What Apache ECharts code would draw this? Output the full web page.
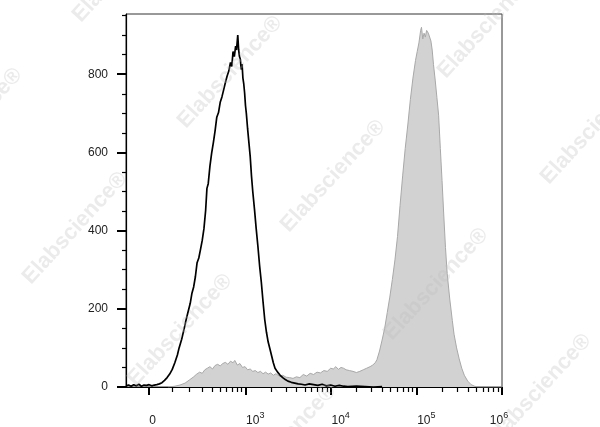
<!DOCTYPE html>
<html>
<head>
<meta charset="utf-8">
<script src="https://cdn.jsdelivr.net/npm/echarts@6/dist/echarts.min.js"></script>
<style>
html,body{margin:0;padding:0;background:#fff;}
#chart{width:600px;height:427px;}
</style>
</head>
<body>
<div id="chart"></div>
<script>
// ---- data (x in display-scale decade units of a biexponential axis) ----
const blackHist = [
[1.61,3],[1.64,5],[1.67,2],[1.70,6],[1.73,3],[1.76,7],[1.79,2],[1.82,5],[1.85,4],[1.88,6],
[1.91,3],[1.94,5],[1.97,6],[2.00,8],[2.03,11],[2.06,17],[2.09,24],[2.12,33],[2.15,45],[2.18,62],
[2.21,82],[2.23,100],[2.26,122],[2.29,150],[2.31,170],[2.33,188],[2.36,214],[2.38,240],[2.40,256],
[2.42,282],[2.44,318],[2.46,330],[2.48,352],[2.50,375],[2.52,405],[2.54,452],[2.555,508],[2.57,520],
[2.59,565],[2.61,598],[2.63,625],[2.65,655],[2.67,690],[2.69,702],[2.71,728],[2.73,742],[2.75,760],
[2.77,778],[2.79,795],[2.81,808],[2.83,830],[2.845,820],[2.86,858],[2.875,845],[2.89,872],[2.90,862],
[2.915,900],[2.925,862],[2.935,845],[2.945,838],[2.955,812],[2.965,826],[2.975,790],[2.985,775],
[2.995,752],[3.005,720],[3.015,700],[3.03,660],[3.045,625],[3.06,590],[3.075,540],[3.09,500],
[3.11,455],[3.13,405],[3.15,360],[3.17,310],[3.19,268],[3.21,218],[3.23,172],[3.25,140],[3.27,115],
[3.29,98],[3.31,80],[3.33,62],[3.35,48],[3.38,38],[3.41,30],[3.44,24],[3.47,19],[3.50,15],[3.54,12],
[3.58,10],[3.62,8],[3.66,7],[3.70,5],[3.75,8],[3.80,6],[3.85,4],[3.90,7],[3.95,3],[4.00,5],[4.05,2],
[4.10,4],[4.15,2],[4.20,1],[4.30,2],[4.40,1],[4.50,0],[4.60,1]
];
const greyHist = [
[2.10,0],[2.18,2],[2.24,5],[2.30,10],[2.35,18],[2.40,26],[2.43,32],[2.47,38],[2.50,35],[2.53,44],
[2.56,48],[2.59,52],[2.62,46],[2.65,55],[2.68,58],[2.71,54],[2.74,60],[2.77,63],[2.80,58],[2.83,66],
[2.86,62],[2.88,68],[2.91,56],[2.94,60],[2.97,50],[3.00,52],[3.03,44],[3.06,46],[3.09,40],[3.12,42],
[3.15,37],[3.18,40],[3.21,34],[3.24,38],[3.27,33],[3.30,36],[3.33,30],[3.36,34],[3.40,28],[3.44,30],
[3.48,25],[3.52,24],[3.56,22],[3.60,26],[3.64,24],[3.68,32],[3.72,28],[3.76,35],[3.80,32],[3.84,38],
[3.88,36],[3.92,42],[3.96,40],[4.00,48],[4.03,46],[4.06,52],[4.09,45],[4.12,50],[4.15,48],[4.18,44],
[4.22,42],[4.26,40],[4.30,37],[4.34,40],[4.38,44],[4.42,48],[4.46,52],[4.49,56],[4.52,62],[4.54,70],
[4.57,92],[4.60,120],[4.63,150],[4.66,190],[4.69,230],[4.72,275],[4.75,325],[4.78,385],[4.81,465],
[4.84,540],[4.87,610],[4.90,670],[4.93,735],[4.96,790],[4.99,835],[5.01,858],[5.03,880],[5.05,912],
[5.06,920],[5.075,890],[5.09,905],[5.105,895],[5.12,912],[5.14,905],[5.155,910],[5.17,885],[5.185,862],
[5.20,825],[5.22,785],[5.24,740],[5.26,695],[5.28,610],[5.30,528],[5.32,440],[5.34,357],[5.36,290],
[5.39,225],[5.42,170],[5.44,135],[5.47,100],[5.50,72],[5.53,48],[5.56,30],[5.60,15],[5.64,6],
[5.68,2],[5.72,0],[6.0,0]
];
const xMajorRaw = [0, 1e3, 1e4, 1e5, 1e6];
const xMajorLabels = ['0', '3', '4', '5', '6'];   // '0' or exponent of 10
const xMinorRaw = [-100, 100,200,300,400,500,600,700,800,900,
  2e3,3e3,4e3,5e3,6e3,7e3,8e3,9e3, 2e4,3e4,4e4,5e4,6e4,7e4,8e4,9e4,
  2e5,3e5,4e5,5e5,6e5,7e5,8e5,9e5];
const yMajor = [0, 200, 400, 600, 800];
const yMinor = [50,100,150,250,300,350,450,500,550,650,700,750,850,900,950];
const watermarkText = 'Elabscience®';
const watermarkPos = [[230,72],[333,176],[436,284],[539,390],[75,228],[180,330],[284,440],
  [490,22],[593,128],[125,-34],[-30,124]];

// biexponential-like display transform
const LOG0 = 1.875, C0 = Math.pow(10, LOG0);
function toPos(v){ return LOG0 + Math.asinh(v/(2*C0))/Math.LN10; }
const X_MIN = 1.61, X_MAX = toPos(1e6);
const xMajorPos = xMajorRaw.map(toPos);
const xMinorPos = xMinorRaw.map(toPos).filter(p => p >= X_MIN && p <= X_MAX);

function labelFor(val){
  let best = 0, bd = Infinity;
  xMajorPos.forEach((p,i)=>{ const d=Math.abs(p-val); if(d<bd){bd=d;best=i;} });
  const l = xMajorLabels[best];
  if (l === '0') return '{z|0}';
  if (l === '6') return '{m|10}{t|6}';
  return '{n|10}{s|' + l + '}';
}

const FONT = 'Liberation Sans, Arial, sans-serif';
const chart = echarts.init(document.getElementById('chart'), null, {renderer:'canvas'});
const option = {
  animation: false,
  backgroundColor: '#fff',
  grid: {left:126, right:98, top:14, bottom:40, show:true, borderColor:'#333', borderWidth:1, backgroundColor:'transparent'},
  xAxis: [{
    type:'value', min:X_MIN, max:X_MAX, position:'bottom',
    axisLine:{show:true, onZero:false, lineStyle:{color:'#000', width:1.2}},
    axisTick:{show:true, customValues:xMajorPos, length:8, lineStyle:{color:'#000', width:2}},
    axisLabel:{show:true, customValues:xMajorPos, margin:26, color:'#222', fontFamily:FONT,
      showMinLabel:true, showMaxLabel:true, hideOverlap:false,
      formatter: labelFor,
      rich:{
        z:{fontSize:12, fontFamily:FONT, color:'#222', padding:[0,0,0,8], verticalAlign:'bottom', lineHeight:14},
        n:{fontSize:12, fontFamily:FONT, color:'#222', padding:[0,0,0,20], verticalAlign:'bottom', lineHeight:14},
        m:{fontSize:12, fontFamily:FONT, color:'#222', verticalAlign:'bottom', lineHeight:14},
        s:{fontSize:9, fontFamily:FONT, color:'#222', padding:[0,0,7,0], verticalAlign:'bottom', lineHeight:10},
        t:{fontSize:9, fontFamily:FONT, color:'#222', padding:[0,6,7,0], verticalAlign:'bottom', lineHeight:10}
      }},
    splitLine:{show:false}
  },{
    type:'value', min:X_MIN, max:X_MAX, position:'bottom',
    axisLine:{show:false, onZero:false},
    axisTick:{show:true, customValues:xMinorPos, length:5, lineStyle:{color:'#000', width:1.2}},
    axisLabel:{show:false},
    splitLine:{show:false}
  }],
  yAxis: [{
    type:'value', min:0, max:954, position:'left',
    axisLine:{show:true, onZero:false, lineStyle:{color:'#000', width:1.2}},
    axisTick:{show:true, customValues:yMajor, length:9, lineStyle:{color:'#000', width:2}},
    axisLabel:{show:true, customValues:yMajor, margin:18, color:'#222', fontSize:12, fontFamily:FONT},
    splitLine:{show:false}
  },{
    type:'value', min:0, max:954, position:'left',
    axisLine:{show:false},
    axisTick:{show:true, customValues:yMinor, length:4, lineStyle:{color:'#000', width:1.2}},
    axisLabel:{show:false},
    splitLine:{show:false}
  }],
  series: [{
    type:'line', name:'stained', data:greyHist, xAxisIndex:0, yAxisIndex:0,
    showSymbol:false, symbol:'none', smooth:false, z:2,
    lineStyle:{color:'#a8a8a8', width:1},
    areaStyle:{color:'#d2d2d2', opacity:1}
  },{
    type:'line', name:'control', data:blackHist, xAxisIndex:0, yAxisIndex:0,
    showSymbol:false, symbol:'none', smooth:false, z:3,
    lineStyle:{color:'#000', width:1.7}
  }],
  graphic: watermarkPos.map(p => ({
    type:'text', x:p[0], y:p[1], rotation:0.83, z:100, silent:true,
    style:{text:watermarkText, fontSize:22, fontWeight:'bold', fontFamily:FONT,
      fill:'rgba(190,190,190,0.30)', align:'center', verticalAlign:'middle'}
  }))
};
chart.setOption(option);
</script>
</body>
</html>
